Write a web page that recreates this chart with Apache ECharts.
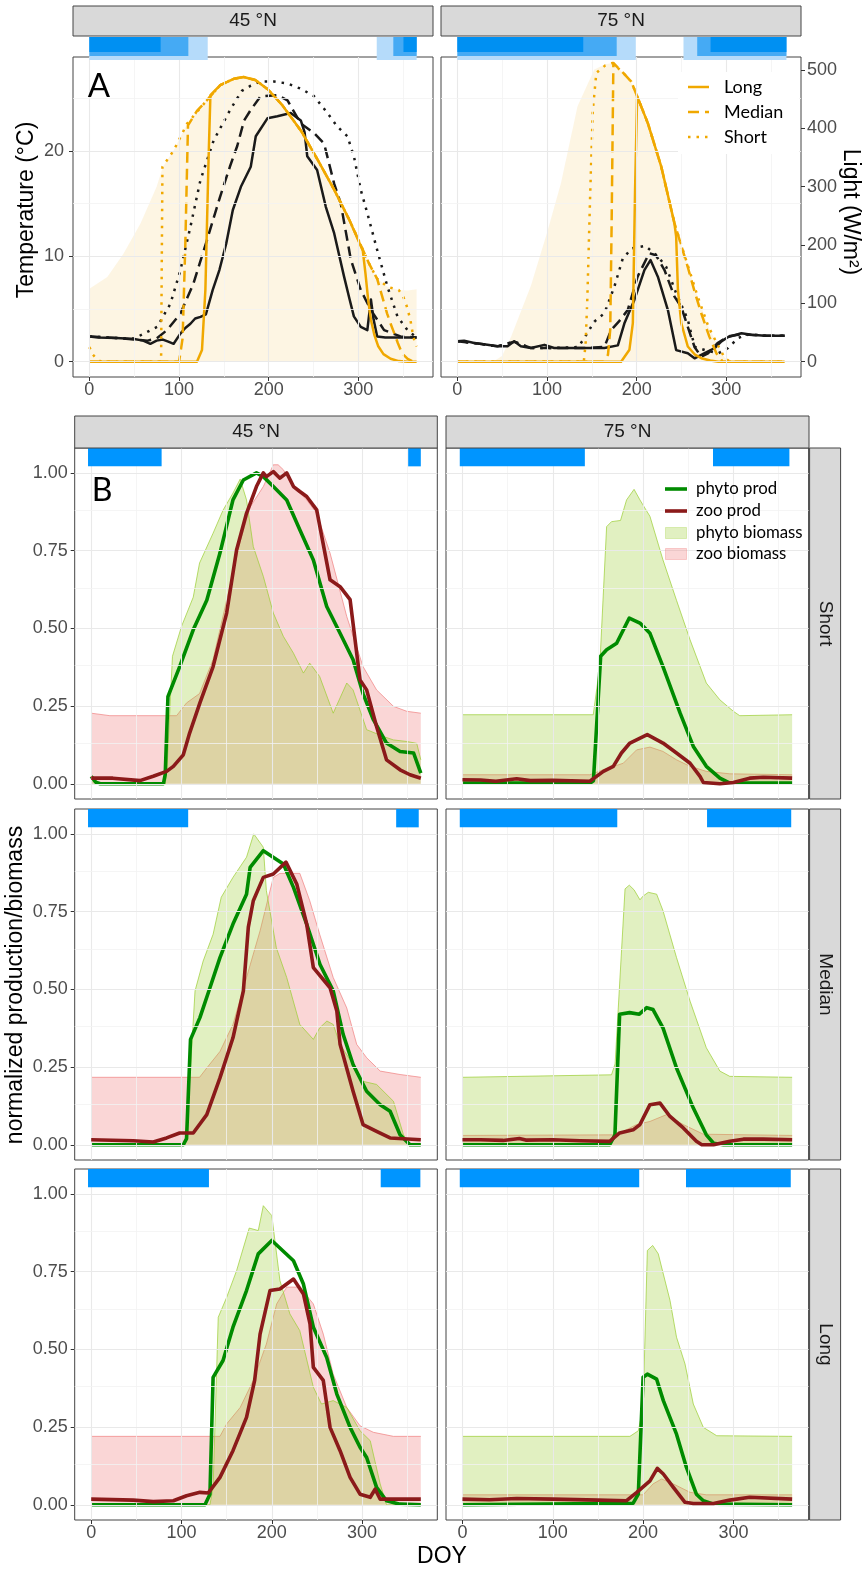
<!DOCTYPE html>
<html>
<head>
<meta charset="utf-8">
<title>Ice season, light, temperature and plankton</title>
<script src="https://cdn.jsdelivr.net/npm/echarts@6/dist/echarts.min.js"></script>
<style>
  html, body { margin: 0; padding: 0; background: #fff; }
  #main { width: 864px; height: 1572px; }
</style>
</head>
<body>
<div id="main"></div>
<script>
// ---------- ticks ----------
const doyTicks = [0, 100, 200, 300];
const doyMinor = [50, 150, 250, 350];
const tempTicks = [0, 10, 20];
const tempMinor = [5, 15, 25];
const lightTicks = [0, 100, 200, 300, 400, 500];
const normTicks = [0, 0.25, 0.5, 0.75, 1];
const normMinor = [0.125, 0.375, 0.625, 0.875];

// ---------- A: 45 N (temperature in degC, light in W/m2) ----------
const surfLight45 = [[0,125],[20,145],[38,185],[57,237],[75,300],[82,334],[94,362],[109,408],[131,448],[146,474],[161,485],[172,488],[185,483],[199,467],[215,440],[236,396],[255,345],[273,295],[290,243],[305,192],[312,168],[321,142],[333,128],[345,123],[355,122],[365,124]];
const lightLong45 = [[0,0],[120,0],[125.6,20],[129.4,123],[133,351],[135,457],[146,474],[161,485],[172,488],[185,483],[199,467],[215,440],[236,396],[255,345],[273,295],[290,243],[305,190],[308,150],[311,105],[314,72],[318,45],[322,27],[328,13],[336,5],[345,1],[355,0],[365,0]];
const lightMedian45 = [[0,0],[100,0],[104,40],[107,200],[110,405],[120,430],[131,448],[146,474],[161,485],[172,488],[185,483],[199,467],[215,440],[236,396],[255,345],[273,295],[290,243],[305,192],[312,168],[321,142],[326,115],[332,83],[336,65],[340,49],[344,32],[347,21],[351,11],[355,5],[360,1],[365,0]];
const lightShort45 = [[0,25],[4,12],[8,5],[12,1],[16,0],[80,0],[81.5,334],[94,362],[109,408],[131,448],[146,474],[161,485],[172,488],[185,483],[199,467],[215,440],[236,396],[255,345],[273,295],[290,243],[305,192],[312,168],[321,142],[333,128],[345,123],[350,112],[354,95],[358,72],[361,45],[363,33],[365,26]];
const tempLong45 = [[0,2.4],[10,2.3],[30,2.25],[50,2.15],[60,2.0],[68,1.7],[75,2.0],[82,2.1],[88,1.9],[94,1.7],[101.5,2.66],[107,3.2],[112.7,3.6],[118,4.1],[124,4.25],[130,4.5],[137.5,6.8],[145,8.7],[152.6,11.2],[160,14.4],[169,16.6],[180,18.5],[185.6,21.4],[198.6,23.1],[209.7,23.3],[224.6,23.6],[235.8,22.9],[240,21.8],[243,19.5],[254,18.2],[263.7,14.7],[273,12.2],[284,8.1],[290,6.0],[295,4.3],[302.7,3.3],[310,3.0],[314,5.9],[317,4.0],[321,2.4],[330,2.3],[365,2.3]];
const tempMedian45 = [[0,2.4],[30,2.25],[50,2.1],[65,2.0],[75,2.2],[86.6,3.0],[101.5,4.56],[116,7.4],[131,11.5],[145.6,15.6],[156.7,18.5],[165,20.5],[172.6,22.9],[180,23.9],[191,25.2],[209.7,25.3],[221,24.8],[235.8,22.6],[250.6,21.7],[261.8,20.7],[273,16.9],[280.4,15.0],[291.6,9.7],[302.7,6.8],[314,4.9],[328.7,3.0],[347,2.4],[365,2.3]];
const tempShort45 = [[0,2.4],[30,2.25],[50,2.2],[60.6,2.66],[75.5,3.3],[90.4,5.5],[101.5,8.67],[112.7,12.8],[123.8,17.2],[138.6,21.0],[157,23.9],[170,25.7],[180,26.2],[191,26.6],[206,26.6],[221,26.4],[236,25.9],[250.6,25.2],[265.5,23.6],[276.7,22.3],[287.8,21.4],[295,19.5],[302.7,16.3],[310,14.1],[321,10.6],[332.5,7.1],[343.6,4.3],[354.7,3.0],[365,2.3]];

// ---------- A: 75 N ----------
const surfLight75 = [[0,0],[40,0],[50,10],[60,43],[82,130],[100,221],[115.5,306],[134,438],[152.7,501],[165,510],[173,512],[185,495],[194,480],[200.5,455],[212.4,409],[227.3,335],[242,238],[257,165],[268,112],[280,60],[291,27],[298,7],[304,0],[365,0]];
const lightLong75 = [[0,0],[182.6,0],[191.9,20.6],[195.7,66],[198.2,295],[200.5,455],[212.4,409],[227.3,335],[242,238],[244,215],[246,123],[249.7,66],[257,26],[265,12],[272,6],[282,2],[291,0],[365,0]];
const lightMedian75 = [[0,0],[163,0],[168,12],[170.5,55],[172,230],[174,512],[185,495],[194,480],[200.5,455],[212.4,409],[227.3,335],[242,238],[257,162],[265,118],[272,83],[281,43],[289,14],[296,0],[365,0]];
const lightShort75 = [[0,0],[141,0],[143,30],[145,110],[148,280],[151,430],[155,495],[165,508],[173,512],[185,495],[194,480],[200.5,455],[212.4,409],[227.3,335],[242,238],[257,165],[268,112],[280,60],[291,27],[298,7],[304,0],[365,0]];
const tempLong75 = [[0,1.93],[7.5,2.0],[18.6,1.77],[33.5,1.6],[44.7,1.46],[56,1.46],[63.4,1.93],[70.8,1.46],[82,1.3],[97,1.6],[108,1.3],[126.7,1.3],[145,1.3],[164,1.3],[179,1.55],[186.3,3.64],[197.4,5.86],[208.6,8.7],[215.4,9.65],[223.6,8.07],[234.8,4.9],[244,1.1],[257,0.8],[264.5,0.32],[275.8,0.82],[287,1.3],[294.5,1.93],[302,2.34],[316.8,2.7],[328,2.56],[343,2.47],[365,2.47]];
const tempMedian75 = [[0,1.93],[18.6,1.77],[44.7,1.46],[63.4,1.9],[82,1.3],[108,1.3],[145,1.3],[164,1.4],[171.4,3.0],[180,3.8],[190,4.9],[201,8.07],[214,10.3],[221.5,10.1],[231,8.7],[242,6.2],[249.7,5.2],[257,3.3],[264.5,1.4],[272,0.47],[279.5,0.8],[290.7,1.8],[302,2.4],[316.8,2.6],[343,2.47],[365,2.47]];
const tempShort75 = [[0,1.93],[18.6,1.77],[44.7,1.46],[63.4,1.9],[82,1.3],[108,1.3],[135,1.4],[143.4,2.5],[152.7,3.8],[164,4.6],[175,7.1],[184.5,9.8],[194.5,10.75],[209.4,11.0],[223.6,10.0],[232.9,9.0],[244,6.5],[257,4.0],[261,2.6],[265,1.4],[276,1.1],[291,0.8],[302,1.3],[313,2.25],[325,2.6],[345,2.47],[365,2.47]];

// ice cover periods [start DOY, end DOY]
const iceLongA45 = [[0,132],[320.5,365]];
const iceMedianA45 = [[0,110.4],[339,365]];
const iceShortA45 = [[0,79.5],[350.3,365]];
const iceLongA75 = [[0,199],[252.2,367]];
const iceMedianA75 = [[0,177.7],[267.5,367]];
const iceShortA75 = [[0,140.4],[282.4,367]];

// ---------- B: normalized production / biomass ----------
const phytoBio_S45 = [[0,0.024],[5,0.005],[10,0],[82,0],[84,0.05],[90,0.41],[100,0.506],[113,0.6],[120,0.71],[135,0.806],[146,0.88],[157,0.935],[165,0.98],[172,0.913],[179.5,0.763],[190.6,0.667],[201.7,0.549],[212.8,0.474],[224,0.42],[235,0.356],[242,0.388],[253,0.345],[268,0.227],[283,0.324],[290,0.302],[305,0.174],[323.6,0.152],[334.7,0.141],[349.5,0.136],[360.5,0.13],[365,0.077]];
const zooBio_S45 = [[0,0.227],[20.7,0.219],[94.6,0.219],[105.6,0.26],[120,0.29],[135,0.4],[150,0.59],[165,0.78],[176,0.89],[190.6,0.956],[201.7,1.026],[207,1.026],[212.8,1.01],[224,0.956],[238.6,0.913],[249.7,0.87],[264.5,0.742],[283,0.538],[301,0.377],[316,0.302],[334.7,0.249],[349.5,0.233],[365,0.227]];
const phytoProd_S45 = [[0,0.024],[5,0.005],[10,0],[80,0],[82,0.03],[85,0.28],[98,0.377],[113,0.495],[128,0.59],[142.6,0.742],[157,0.913],[168.5,0.977],[183,1.0],[190.6,0.988],[201.7,0.956],[216.5,0.913],[231,0.817],[246,0.72],[260.8,0.57],[275.6,0.484],[290,0.399],[301,0.29],[312.5,0.206],[327,0.131],[342,0.104],[357,0.099],[365,0.034]];
const zooProd_S45 = [[0,0.018],[24,0.018],[54,0.01],[68.7,0.024],[83.5,0.04],[91,0.056],[102,0.093],[109,0.163],[120.4,0.26],[135,0.377],[150,0.549],[161,0.752],[172,0.87],[183,0.956],[190.6,1.0],[194,0.988],[201.7,1.004],[209,0.983],[216.5,1.0],[224,0.956],[231,0.94],[238.6,0.924],[249.7,0.881],[264.5,0.656],[275.6,0.634],[286.7,0.592],[297.7,0.334],[305,0.302],[316,0.184],[327,0.077],[342,0.045],[353,0.029],[365,0.018]];

const phytoBio_S75 = [[0,0.222],[144.8,0.222],[152,0.377],[159.6,0.827],[165,0.843],[175,0.847],[181.7,0.913],[190,0.947],[196.5,0.913],[207.6,0.86],[222,0.72],[237,0.59],[252,0.463],[270,0.324],[285,0.27],[300,0.233],[307,0.219],[365,0.222]];
const zooBio_S75 = [[0,0.029],[141,0.029],[156,0.045],[178,0.066],[192.8,0.109],[207.6,0.118],[222,0.104],[237,0.077],[252,0.056],[270,0.04],[296,0.032],[365,0.029]];
const phytoProd_S75 = [[0,0.002],[141,0.002],[145,0.01],[153,0.41],[159.6,0.431],[170.7,0.452],[184.7,0.533],[196.5,0.517],[207.6,0.484],[222,0.377],[241,0.227],[255.6,0.12],[270,0.056],[285,0.018],[296,0.002],[365,0.002]];
const zooProd_S75 = [[0,0.013],[20,0.012],[37,0.008],[60,0.016],[75,0.01],[100,0.011],[141,0.008],[156,0.04],[167,0.056],[176,0.099],[185.4,0.131],[204.6,0.158],[222,0.131],[237,0.099],[252,0.066],[263,0.024],[266.7,0.004],[285,0],[300,0.004],[318,0.018],[333,0.021],[365,0.018]];

const phytoBio_M45 = [[0,0],[103.8,0],[106,0.05],[115,0.495],[124,0.591],[135,0.677],[144,0.796],[157,0.86],[172,0.925],[180,1.0],[190.6,0.957],[194,0.817],[205,0.634],[216.5,0.538],[231,0.387],[246,0.339],[253,0.376],[261,0.398],[268,0.387],[275.6,0.323],[290,0.258],[301,0.204],[316,0.194],[334.7,0.14],[345.8,0.032],[353,0],[365,0]];
const zooBio_M45 = [[0,0.217],[120,0.217],[128,0.247],[142.6,0.3],[157,0.387],[172,0.538],[187,0.688],[201.7,0.86],[209,0.873],[231,0.873],[242,0.785],[253,0.677],[268,0.538],[283,0.44],[294,0.323],[305,0.28],[320,0.237],[342,0.226],[365,0.217]];
const phytoProd_M45 = [[0,0],[102,0],[105.6,0.02],[110,0.339],[120.4,0.409],[131.5,0.505],[142.6,0.602],[157,0.71],[172,0.806],[176,0.892],[190.6,0.946],[212.8,0.903],[224,0.828],[238.6,0.71],[253.4,0.58],[268,0.495],[279,0.355],[290,0.258],[305,0.172],[320,0.129],[331,0.108],[342,0.032],[353,0],[365,0]];
const zooProd_M45 = [[0,0.016],[46.5,0.013],[68.7,0.009],[83.5,0.022],[98,0.038],[113,0.038],[128,0.097],[142.6,0.215],[157,0.344],[168.5,0.495],[174,0.7],[179.5,0.785],[190.6,0.86],[201.7,0.871],[215.7,0.909],[227.6,0.839],[238.6,0.71],[246,0.57],[264.5,0.505],[272,0.43],[275.6,0.323],[290,0.172],[301,0.065],[316,0.043],[331,0.022],[365,0.016]];

const phytoBio_M75 = [[0,0.217],[165,0.225],[169,0.26],[180,0.823],[184.7,0.835],[190,0.82],[196.5,0.788],[200,0.8],[205.8,0.812],[215,0.806],[222,0.753],[237,0.602],[252,0.462],[270,0.312],[285,0.237],[296,0.22],[365,0.217]];
const zooBio_M75 = [[0,0.03],[170.7,0.032],[192.8,0.065],[207.6,0.075],[226,0.097],[244.5,0.065],[266.7,0.034],[365,0.03]];
const phytoProd_M75 = [[0,0],[163,0],[168.8,0.032],[174,0.42],[185,0.425],[195.8,0.42],[204,0.441],[211,0.435],[222,0.376],[237,0.247],[255.6,0.118],[270,0.032],[278,0.005],[289,0],[365,0]];
const zooProd_M75 = [[0,0.016],[20,0.016],[45,0.014],[63,0.02],[70,0.015],[100,0.016],[130,0.013],[163,0.011],[174,0.038],[189,0.048],[196.5,0.065],[207.6,0.129],[218.7,0.134],[229.8,0.091],[244.5,0.054],[259,0.011],[265,0],[278,0],[296,0.011],[311,0.018],[333,0.018],[365,0.016]];

const phytoBio_L45 = [[0,0],[131.5,0],[135,0.056],[140.7,0.603],[150,0.667],[161,0.753],[175,0.89],[185,0.882],[190.6,0.962],[200,0.93],[209,0.721],[220,0.614],[231,0.56],[246,0.378],[255,0.324],[268,0.335],[283,0.313],[297.7,0.238],[309,0.206],[320,0.067],[327,0],[365,0]];
const zooBio_L45 = [[0,0.22],[142.6,0.22],[150,0.26],[165,0.313],[179.5,0.4],[194,0.517],[205.4,0.646],[216.5,0.7],[231,0.7],[246,0.646],[257,0.549],[268,0.42],[283,0.313],[297.7,0.254],[312.5,0.233],[334.7,0.22],[365,0.22]];
const phytoProd_L45 = [[0,0],[126,0],[131.5,0.034],[135,0.41],[146,0.464],[157,0.571],[172,0.689],[185,0.807],[200,0.85],[224,0.785],[235,0.71],[246,0.571],[260.8,0.474],[272,0.356],[286.7,0.249],[297.7,0.185],[305,0.152],[316,0.056],[327,0.013],[342,0.002],[365,0]];
const zooProd_L45 = [[0,0.018],[46.5,0.015],[68.7,0.01],[91,0.013],[105.6,0.029],[120.4,0.04],[129.7,0.038],[142.6,0.088],[157,0.174],[172,0.281],[181,0.4],[187,0.549],[198,0.689],[209,0.694],[224,0.726],[235,0.678],[242.3,0.582],[246,0.442],[257,0.4],[264.5,0.249],[275.6,0.174],[286.7,0.088],[297.7,0.034],[309,0.024],[314.4,0.05],[320,0.018],[365,0.018]];

const phytoBio_L75 = [[0,0.22],[185.4,0.22],[194.7,0.238],[200,0.313],[204.7,0.818],[210.6,0.834],[216.8,0.807],[222.4,0.742],[229.8,0.657],[237,0.539],[246.4,0.453],[255.6,0.324],[266.7,0.249],[281.5,0.222],[365,0.22]];
const zooBio_L75 = [[0,0.032],[200,0.032],[211,0.067],[220.5,0.083],[233.5,0.067],[252,0.04],[270,0.032],[365,0.032]];
const phytoProd_L75 = [[0,0],[189,0.005],[194.7,0.034],[200,0.41],[204.7,0.42],[215,0.404],[222.4,0.335],[237,0.227],[248,0.12],[259,0.034],[266.7,0.013],[278,0.002],[365,0]];
const zooProd_L75 = [[0,0.018],[30,0.016],[60,0.02],[100,0.018],[150,0.015],[181.7,0.013],[193,0.04],[207.6,0.077],[215.7,0.117],[222.4,0.099],[233.5,0.056],[246.4,0.008],[255.6,0.004],[278,0.004],[296,0.015],[318,0.024],[365,0.018]];

const iceB_S45 = [[-3.5,78],[351,365]];
const iceB_S75 = [[-3,135.5],[277.4,362]];
const iceB_M45 = [[-3.5,107.4],[337.7,362.7]];
const iceB_M75 = [[-3,171.4],[270.8,364]];
const iceB_L45 = [[-3.5,130.4],[320.6,364.5]];
const iceB_L75 = [[-3,195.7],[247.5,363.5]];

// ---------- layout / style ----------
const FONT = "'Liberation Sans', Arial, sans-serif";
const KEYFONT = "Lato, 'Open Sans', sans-serif";
const X_MIN = -18.25, X_MAX = 383.25;
const T_MIN = -1.452, T_MAX = 28.92;
const K_LIGHT = 18.06;               // W/m2 per degC on the shared panel height
const N_MIN = -0.049, N_MAX = 1.08;
const ORANGE = '#f0a800';
const BLACK = '#1a1a1a';
const DASH = [11, 6], DOT = [2.5, 6];
const GREEN = '#008b00', DARKRED = '#8b1a1a';
const PHYTO_FILL = 'rgba(154,205,50,0.3)', PHYTO_EDGE = 'rgba(154,205,50,0.7)';
const ZOO_FILL = 'rgba(240,128,128,0.32)', ZOO_EDGE = 'rgba(240,128,128,0.7)';
const ICE_DARK = '#0090f2', ICE_MED = '#45aaf4', ICE_LIGHT = '#b5dbfa', ICE_B = '#0095ff';

const grids = [
  { left: 73, top: 57, width: 360, height: 320 },
  { left: 441, top: 57, width: 360, height: 320 },
  { left: 73, top: 37, width: 360, height: 23 },
  { left: 441, top: 37, width: 360, height: 23 }
];
const bLeft = [74.7, 446], bTop = [448, 809, 1169];
bTop.forEach(t => bLeft.forEach(l => grids.push({ left: l, top: t, width: 362.6, height: 351 })));
grids.forEach((g, i) => {
  g.containLabel = false;
  g.show = i < 2 || i > 3;
  g.borderColor = '#444';
  g.borderWidth = 1;
  g.backgroundColor = 'transparent';
});

function xAxisFor (gi, labels) {
  return {
    type: 'value', gridIndex: gi, min: X_MIN, max: X_MAX,
    splitLine: { show: false },
    axisLine: { show: false, onZero: false },
    axisTick: { show: labels, customValues: doyTicks, length: 4, lineStyle: { color: '#333' } },
    axisLabel: { show: labels, customValues: doyTicks, fontSize: 18, color: '#4d4d4d', fontFamily: FONT, margin: 4 }
  };
}
function yAxisFor (gi, min, max, ticks, labels, extra) {
  return Object.assign({
    type: 'value', gridIndex: gi, min, max,
    splitLine: { show: false },
    axisLine: { show: false, onZero: false },
    axisTick: { show: labels, customValues: ticks, length: 4, lineStyle: { color: '#333' } },
    axisLabel: { show: labels, customValues: ticks, fontSize: 18, color: '#4d4d4d', fontFamily: FONT, margin: 7 }
  }, extra || {});
}

const xAxes = [xAxisFor(0, true), xAxisFor(1, true), xAxisFor(2, false), xAxisFor(3, false)];
for (let k = 0; k < 6; k++) xAxes.push(xAxisFor(4 + k, k >= 4));

const yAxes = [
  yAxisFor(0, T_MIN, T_MAX, tempTicks, true, { axisLabel: { customValues: tempTicks, fontSize: 18, color: '#4d4d4d', fontFamily: FONT, margin: 9 } }),
  yAxisFor(0, T_MIN * K_LIGHT, T_MAX * K_LIGHT, lightTicks, false, { show: false }),
  yAxisFor(1, T_MIN, T_MAX, tempTicks, false),
  yAxisFor(1, T_MIN * K_LIGHT, T_MAX * K_LIGHT, lightTicks, true, { position: 'right', axisLabel: { customValues: lightTicks, fontSize: 18, color: '#4d4d4d', fontFamily: FONT, margin: 6 } }),
  { type: 'value', gridIndex: 2, min: 0, max: 1, show: false },
  { type: 'value', gridIndex: 3, min: 0, max: 1, show: false }
];
for (let k = 0; k < 6; k++) {
  const ax = yAxisFor(4 + k, N_MIN, N_MAX, normTicks, k % 2 === 0);
  ax.axisLabel.formatter = v => v.toFixed(2);
  yAxes.push(ax);
}

// ---------- series builders ----------
function gridLines (xi, yi, hMajor, hMinor) {
  const maj = { color: '#e9e9e9', width: 1.1, type: 'solid' };
  const mnr = { color: '#f3f3f3', width: 0.8, type: 'solid' };
  const data = [];
  doyTicks.forEach(v => data.push({ xAxis: v, lineStyle: maj }));
  doyMinor.forEach(v => data.push({ xAxis: v, lineStyle: mnr }));
  hMajor.forEach(v => data.push({ yAxis: v, lineStyle: maj }));
  hMinor.forEach(v => data.push({ yAxis: v, lineStyle: mnr }));
  return {
    type: 'line', xAxisIndex: xi, yAxisIndex: yi, data: [], z: 1, silent: true,
    markLine: { silent: true, symbol: ['none', 'none'], label: { show: false }, animation: false, emphasis: { disabled: true }, data }
  };
}
function areaS (xi, yi, data, edge, fill, z) {
  return {
    type: 'line', xAxisIndex: xi, yAxisIndex: yi, data, z, silent: true,
    symbol: 'none', lineStyle: { color: edge, width: 1 }, areaStyle: { color: fill, opacity: 1 }
  };
}
function lineS (xi, yi, data, color, width, dash, z) {
  return {
    type: 'line', xAxisIndex: xi, yAxisIndex: yi, data, z, silent: true,
    symbol: 'none', lineStyle: { color, width, type: dash || 'solid', cap: 'butt', join: 'round' }
  };
}
function iceS (xi, yi, data, lo, hi, color, z) {
  return {
    type: 'custom', xAxisIndex: xi, yAxisIndex: yi, data, z, silent: true,
    encode: { x: [0, 1] },
    renderItem: (params, api) => {
      const a = api.coord([api.value(0), hi]);
      const b = api.coord([api.value(1), lo]);
      return { type: 'rect', shape: { x: a[0], y: a[1], width: b[0] - a[0], height: b[1] - a[1] }, style: { fill: color } };
    }
  };
}

const series = [];
// panel A
series.push(gridLines(0, 0, tempTicks, tempMinor), gridLines(1, 2, tempTicks, tempMinor));
[[0, 1, 0, surfLight45, lightLong45, lightMedian45, lightShort45, tempLong45, tempMedian45, tempShort45],
 [1, 3, 2, surfLight75, lightLong75, lightMedian75, lightShort75, tempLong75, tempMedian75, tempShort75]]
  .forEach(([xi, yl, yt, surf, lL, lM, lS, tL, tM, tS]) => {
    series.push(areaS(xi, yl, surf, 'rgba(0,0,0,0)', 'rgba(240,168,0,0.11)', 2));
    series.push(lineS(xi, yt, tL, BLACK, 2.5, null, 3));
    series.push(lineS(xi, yt, tM, BLACK, 2.5, DASH, 3));
    series.push(lineS(xi, yt, tS, BLACK, 2.5, DOT, 3));
    series.push(lineS(xi, yl, lL, ORANGE, 2.5, null, 4));
    series.push(lineS(xi, yl, lM, ORANGE, 2.5, DASH, 4));
    series.push(lineS(xi, yl, lS, ORANGE, 2.5, DOT, 4));
  });
series.push(iceS(2, 4, iceLongA45, 0, 1, ICE_LIGHT, 5), iceS(2, 4, iceMedianA45, 0.174, 1, ICE_MED, 6), iceS(2, 4, iceShortA45, 0.348, 1, ICE_DARK, 7));
series.push(iceS(3, 5, iceLongA75, 0, 1, ICE_LIGHT, 5), iceS(3, 5, iceMedianA75, 0.174, 1, ICE_MED, 6), iceS(3, 5, iceShortA75, 0.348, 1, ICE_DARK, 7));

// panel B
const bPanels = [
  [phytoBio_S45, zooBio_S45, phytoProd_S45, zooProd_S45, iceB_S45],
  [phytoBio_S75, zooBio_S75, phytoProd_S75, zooProd_S75, iceB_S75],
  [phytoBio_M45, zooBio_M45, phytoProd_M45, zooProd_M45, iceB_M45],
  [phytoBio_M75, zooBio_M75, phytoProd_M75, zooProd_M75, iceB_M75],
  [phytoBio_L45, zooBio_L45, phytoProd_L45, zooProd_L45, iceB_L45],
  [phytoBio_L75, zooBio_L75, phytoProd_L75, zooProd_L75, iceB_L75]
];
bPanels.forEach(([pb, zb, pp, zp, ice], k) => {
  const xi = 4 + k, yi = 6 + k;
  series.push(gridLines(xi, yi, normTicks, normMinor));
  series.push(areaS(xi, yi, zb, ZOO_EDGE, ZOO_FILL, 2));
  series.push(areaS(xi, yi, pb, PHYTO_EDGE, PHYTO_FILL, 3));
  series.push(lineS(xi, yi, pp, GREEN, 3.6, null, 4));
  series.push(lineS(xi, yi, zp, DARKRED, 3.6, null, 5));
  series.push(iceS(xi, yi, ice, 1.021, N_MAX, ICE_B, 6));
});

// ---------- strips, titles, keys ----------
const graphic = [];
function strip (x, y, w, h, text, vertical) {
  graphic.push({ type: 'rect', z: 20, shape: { x, y, width: w, height: h }, style: { fill: '#d9d9d9', stroke: '#444', lineWidth: 1 } });
  graphic.push({
    type: 'text', z: 21, x: x + w / 2, y: y + h / 2, rotation: vertical ? -Math.PI / 2 : 0,
    style: { text, fill: '#1a1a1a', font: '19px ' + FONT, textAlign: 'center', textVerticalAlign: 'middle' }
  });
}
strip(73, 6, 360, 30, '45 °N');
strip(441, 6, 360, 30, '75 °N');
strip(74.7, 416, 362.6, 32, '45 °N');
strip(446, 416, 363, 32, '75 °N');
strip(809.6, 448, 31, 351, 'Short', true);
strip(809.6, 809, 31, 351, 'Median', true);
strip(809.6, 1169, 31, 351, 'Long', true);

function label (text, x, y, size, rot, font) {
  graphic.push({
    type: 'text', z: 21, x, y, rotation: rot || 0,
    style: { text, fill: '#000', font: size + 'px ' + (font || FONT), textAlign: 'center', textVerticalAlign: 'middle' }
  });
}
label('Temperature (°C)', 27, 210, 23, Math.PI / 2);
label('Light (W/m²)', 850, 212, 23, -Math.PI / 2);
label('normalized production/biomass', 16, 985, 23, Math.PI / 2);
label('DOY', 442, 1557, 23);
label('A', 99, 86, 33, 0, KEYFONT);
label('B', 102, 491, 32, 0, KEYFONT);

// legend of panel A (white key box)
graphic.push({ type: 'rect', z: 20, shape: { x: 678, y: 72, width: 121, height: 82 }, style: { fill: '#fff' } });
[['Long', null, 87], ['Median', DASH, 112], ['Short', DOT, 137]].forEach(([t, dash, y]) => {
  graphic.push({ type: 'line', z: 21, shape: { x1: 688, y1: y, x2: 709, y2: y }, style: { stroke: ORANGE, lineWidth: 2.5, lineDash: dash || null } });
  graphic.push({ type: 'text', z: 21, x: 724, y, style: { text: t, fill: '#000', font: '18px ' + KEYFONT, textVerticalAlign: 'middle' } });
});

// legend of panel B (no box, grid shows through)
[['phyto prod', 'line', GREEN, 489], ['zoo prod', 'line', DARKRED, 511], ['phyto biomass', 'fill', 'phyto', 533], ['zoo biomass', 'fill', 'zoo', 554]]
  .forEach(([t, kind, c, y]) => {
    if (kind === 'line') {
      graphic.push({ type: 'line', z: 21, shape: { x1: 665, y1: y, x2: 687, y2: y }, style: { stroke: c, lineWidth: 3.6 } });
    } else {
      const phyto = c === 'phyto';
      graphic.push({ type: 'rect', z: 21, shape: { x: 665.5, y: y - 5.5, width: 21, height: 11 }, style: { fill: phyto ? PHYTO_FILL : ZOO_FILL, stroke: phyto ? 'rgba(154,205,50,0.3)' : 'rgba(240,128,128,0.35)', lineWidth: 1 } });
    }
    graphic.push({ type: 'text', z: 21, x: 696, y, style: { text: t, fill: '#000', font: '16.8px ' + KEYFONT, textVerticalAlign: 'middle' } });
  });

const chart = echarts.init(document.getElementById('main'), null, { renderer: 'canvas' });
chart.setOption({
  animation: false,
  backgroundColor: '#fff',
  textStyle: { fontFamily: FONT },
  grid: grids,
  xAxis: xAxes,
  yAxis: yAxes,
  series,
  graphic
});
</script>
</body>
</html>
